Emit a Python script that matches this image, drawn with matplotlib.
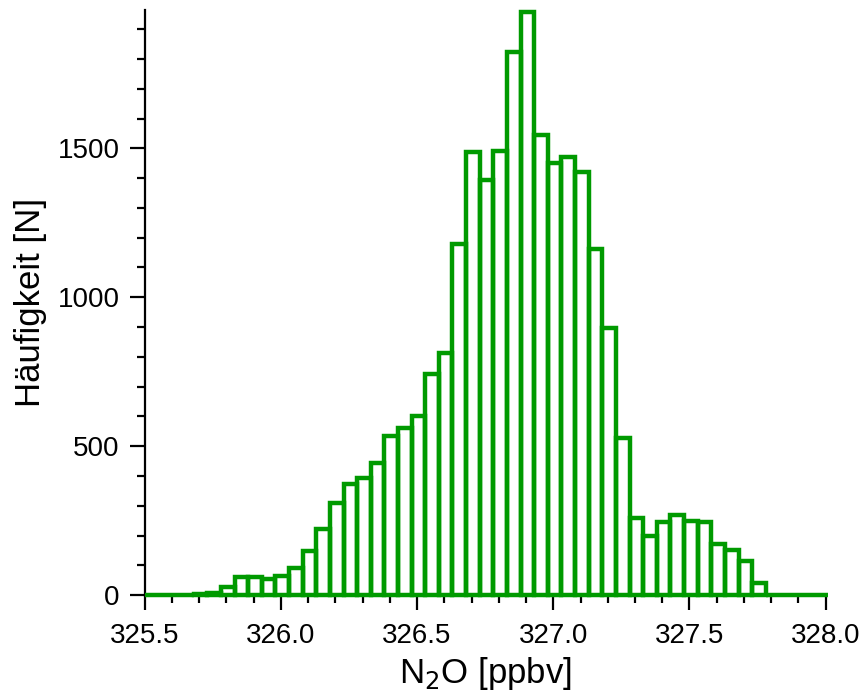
import numpy as np
import matplotlib.pyplot as plt
from matplotlib.ticker import MultipleLocator

plt.rcParams["font.family"] = ["Liberation Sans", "DejaVu Sans"]

# Histogramm-Daten: linke Klassengrenzen (Breite 0.05 ppbv) und Häufigkeiten
bin_start = 325.78
bin_width = 0.05
counts = [
    0, 0, 0, 0, 3, 6,
    28, 60, 60, 55, 63, 93, 147, 222, 310, 375,
    393, 444, 535, 561, 600, 742, 812, 1180, 1489, 1394,
    1492, 1822, 1956, 1544, 1450, 1470, 1420, 1162, 896, 529,
    259, 200, 245, 268, 250, 246, 172, 152, 115, 42,
    0, 0, 0, 0, 0,
]
n_before = 6  # leere Klassen links vom ersten Messwert

x_min, x_max = 325.5, 328.0
green = "#009a00"

# Klassengrenzen berechnen und auf den Achsenbereich beschneiden
k = np.arange(len(counts) + 1) - n_before
edges = np.clip(bin_start + k * bin_width, x_min, x_max + 0.01)
widths = np.diff(edges)

fig = plt.figure(figsize=(8.61, 6.97), dpi=100)
ax = fig.add_axes([0.168, 0.146, 0.791, 0.840])

ax.bar(edges[:-1], counts, width=widths, align="edge", fill=False,
       edgecolor=green, linewidth=3.2, clip_on=False, zorder=3)

ax.set_xlim(x_min, x_max)
ax.set_ylim(0, 1965)

ax.xaxis.set_major_locator(MultipleLocator(0.5))
ax.xaxis.set_minor_locator(MultipleLocator(0.1))
ax.yaxis.set_major_locator(MultipleLocator(500))
ax.yaxis.set_minor_locator(MultipleLocator(100))
ax.xaxis.set_major_formatter(plt.FormatStrFormatter("%.1f"))

for s in ["top", "right"]:
    ax.spines[s].set_visible(False)
for s in ["left", "bottom"]:
    ax.spines[s].set_linewidth(1.6)

ax.tick_params(which="major", direction="out", length=11, width=1.6,
               labelsize=20)
ax.tick_params(which="minor", direction="out", length=6, width=1.6)
ax.tick_params(axis="y", which="major", pad=7)
ax.tick_params(axis="x", which="major", pad=9)

ax.set_xlabel("N$_2$O [ppbv]", fontsize=25, labelpad=4)
ax.set_ylabel("Häufigkeit [N]", fontsize=25, labelpad=8)

fig.savefig("out.png", dpi=100)
